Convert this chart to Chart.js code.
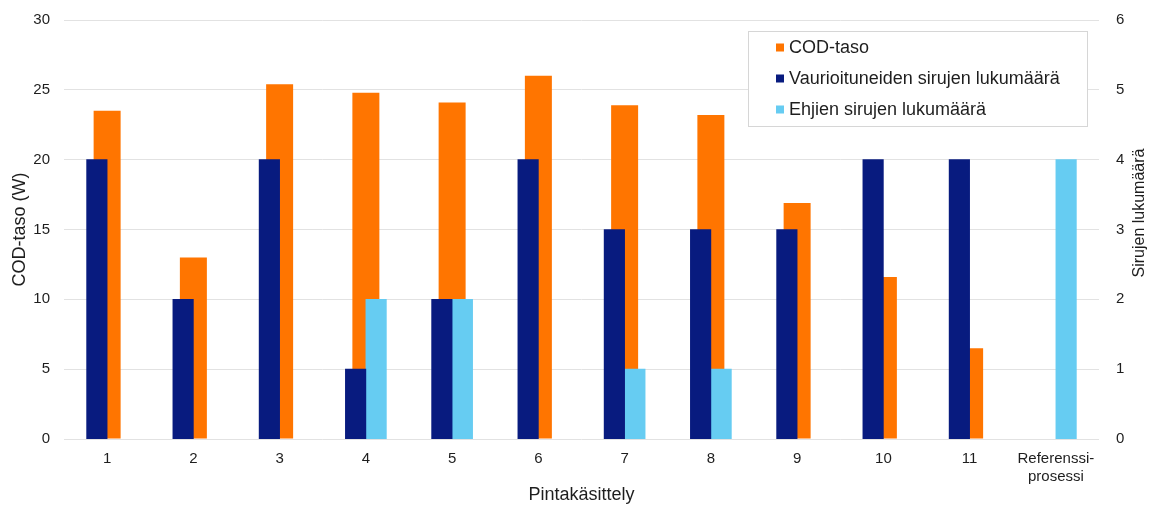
<!DOCTYPE html>
<html>
<head>
<meta charset="utf-8">
<script src="https://cdn.jsdelivr.net/npm/chart.js@4/dist/chart.umd.min.js"></script>
<style>
  html, body { margin: 0; padding: 0; background: #ffffff; overflow: hidden; }
  canvas { display: block; }
</style>
</head>
<body>
<canvas id="chart" width="1153" height="508"></canvas>
<script>
// Surface treatments and the reference process
const categories = ['1', '2', '3', '4', '5', '6', '7', '8', '9', '10', '11', ['Referenssi-', 'prosessi']];

// COD level (W), left axis
const codLevel = [23.5, 13.0, 25.4, 24.8, 24.1, 26.0, 23.9, 23.2, 16.9, 11.6, 6.5, null];

// Chip counts, right axis
const damagedChips = [4, 2, 4, 1, 2, 4, 3, 3, 3, 4, 4, 0];
const intactChips  = [0, 0, 0, 2, 2, 0, 1, 1, 0, 0, 0, 4];

const seriesNames = ['COD-taso', 'Vaurioituneiden sirujen lukumäärä', 'Ehjien sirujen lukumäärä'];
const seriesColors = ['#FF7500', '#081B7F', '#66CCF2'];

const axisTitles = { x: 'Pintakäsittely', left: 'COD-taso (W)', right: 'Sirujen lukumäärä' };

const FONT = '"Liberation Sans", Arial, Helvetica, sans-serif';
const TEXT = '#1e1e1e';
const GRID = '#e2e2e2';

// a count of zero leaves no bar at all
const countBars = arr => arr.map(v => (v === 0 ? null : v));

// vertical axes keep a fixed width and reserve no extra room above or below
const fixVertical = width => s => { s.width = width; s.paddingTop = 0; s.paddingBottom = 0; };

// Legend box in the upper right of the plot
const boxLegend = {
  id: 'boxLegend',
  afterDraw(chart) {
    const ctx = chart.ctx;
    const x0 = 748.5, y0 = 31.5, w = 339, h = 95;
    ctx.save();
    ctx.fillStyle = '#ffffff';
    ctx.fillRect(x0, y0, w, h);
    ctx.strokeStyle = '#d6d6d6';
    ctx.lineWidth = 1;
    ctx.strokeRect(x0, y0, w, h);
    ctx.font = '18px ' + FONT;
    ctx.textBaseline = 'middle';
    ctx.textAlign = 'left';
    chart.data.datasets.forEach((ds, i) => {
      const cy = 47.5 + i * 31;
      ctx.fillStyle = ds.backgroundColor;
      ctx.fillRect(776, cy - 4, 8, 8);
      ctx.fillStyle = TEXT;
      ctx.fillText(ds.label, 789, cy + 1);
    });
    ctx.restore();
  }
};

// Right axis title, reading bottom to top
const rightTitle = {
  id: 'rightTitle',
  afterDraw(chart) {
    const ctx = chart.ctx;
    ctx.save();
    ctx.translate(1140, 213);
    ctx.rotate(-Math.PI / 2);
    ctx.font = '16px ' + FONT;
    ctx.fillStyle = TEXT;
    ctx.textAlign = 'center';
    ctx.textBaseline = 'middle';
    ctx.fillText(axisTitles.right, 0, 0);
    ctx.restore();
  }
};

new Chart(document.getElementById('chart'), {
  type: 'bar',
  data: {
    labels: categories,
    datasets: [
      {
        label: seriesNames[0],
        data: codLevel,
        backgroundColor: seriesColors[0],
        yAxisID: 'y',
        grouped: false,
        categoryPercentage: 0.313,
        barPercentage: 1,
        order: 2
      },
      {
        label: seriesNames[1],
        data: countBars(damagedChips),
        backgroundColor: seriesColors[1],
        yAxisID: 'y2',
        barThickness: 20.5,
        order: 1
      },
      {
        label: seriesNames[2],
        data: countBars(intactChips),
        backgroundColor: seriesColors[2],
        yAxisID: 'y2',
        barThickness: 20.5,
        order: 1
      }
    ]
  },
  options: {
    responsive: false,
    animation: false,
    devicePixelRatio: 1,
    layout: { padding: { top: 20, left: 0, right: 0, bottom: 0 } },
    plugins: {
      legend: { display: false },
      tooltip: { enabled: false }
    },
    scales: {
      x: {
        position: 'bottom',
        grid: { display: false },
        border: { display: false },
        ticks: { color: TEXT, font: { family: FONT, size: 15 }, padding: 3, maxRotation: 0, autoSkip: false },
        title: { display: true, text: axisTitles.x, color: TEXT, font: { family: FONT, size: 18 }, padding: { top: 0, bottom: 2 } },
        afterFit(s) { s.height = 69; }
      },
      y: {
        position: 'left',
        min: 0, max: 30,
        ticks: { stepSize: 5, color: TEXT, font: { family: FONT, size: 15 }, padding: 14 },
        grid: { color: GRID, lineWidth: 1, drawTicks: false },
        border: { display: false },
        title: { display: true, text: axisTitles.left, color: TEXT, font: { family: FONT, size: 18 }, padding: { top: 9, bottom: 0 } },
        afterFit: fixVertical(64)
      },
      y2: {
        position: 'right',
        min: 0, max: 6,
        ticks: { stepSize: 1, color: TEXT, font: { family: FONT, size: 15 }, padding: 17 },
        grid: { display: false, drawTicks: false },
        border: { display: false },
        afterFit: fixVertical(54)
      }
    }
  },
  plugins: [boxLegend, rightTitle]
});
</script>
</body>
</html>
